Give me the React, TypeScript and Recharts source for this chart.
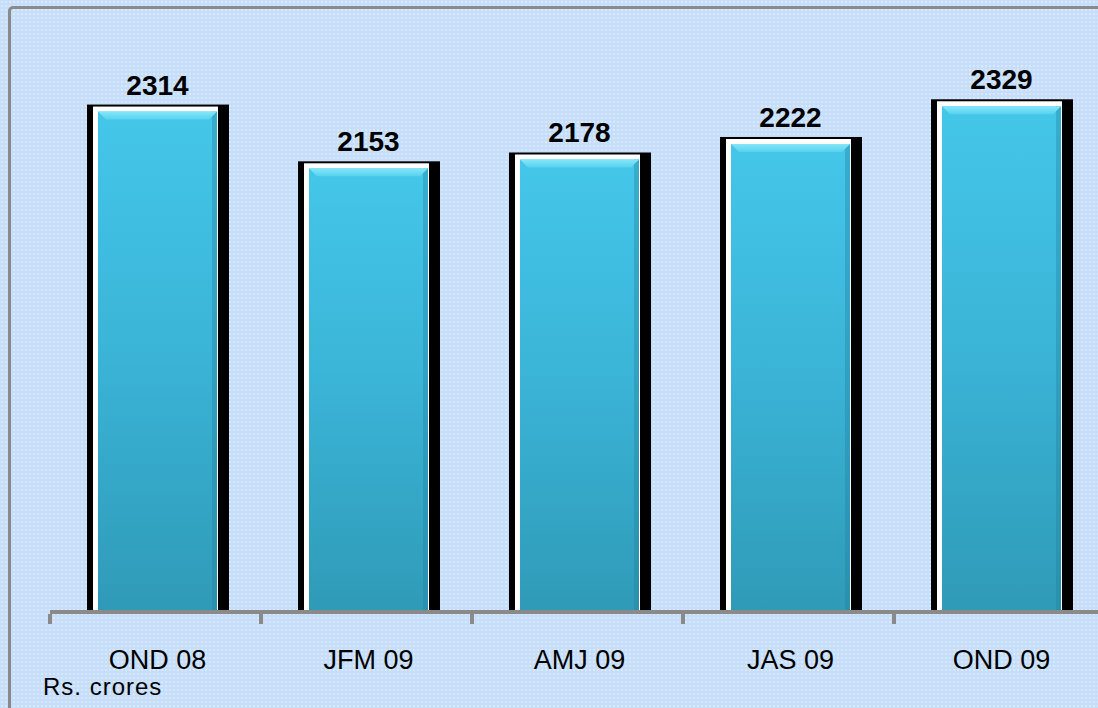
import React from 'react';
import { BarChart, Bar, XAxis, YAxis, LabelList } from 'recharts';

const QUARTERS = ['OND 08', 'JFM 09', 'AMJ 09', 'JAS 09', 'OND 09'];
const VALUES = [2314, 2153, 2178, 2222, 2329];
const Y_DOMAIN = [880, 2500];

const FONT = '"Liberation Sans", Arial, sans-serif';
const AXIS_GREY = '#8a8a8a';

const CHART_W = 1110;
const CHART_H = 708;
const MARGIN = { top: 41, right: 5, left: 50, bottom: 0 };
const BAND = (CHART_W - MARGIN.left - MARGIN.right) / QUARTERS.length;

const data = QUARTERS.map((q, i) => ({ name: q, value: VALUES[i] }));

// bevelled cyan bar with white rim and black drop shadow
const BevelBar = (props: any) => {
    const { x, y, width, height } = props;
    if (height <= 0) return null;
    const base = y + height;
    return (
        <g>
            <rect x={x - 6} y={y - 2} width={width + 17} height={height + 4} fill="#000" />
            <rect x={x} y={y} width={width} height={height + 2} fill="#fff" />
            <rect x={x + 5} y={y + 5} width={width - 6} height={height - 3} fill="url(#barFill)" />
            <rect x={x + width - 6} y={y + 5} width={5} height={height - 3} fill="#1f7f9c" opacity={0.35} />
            <polygon
                points={`${x + 5},${y + 5} ${x + width - 1},${y + 5} ${x + width - 9},${y + 13} ${x + 13},${y + 13}`}
                fill="url(#bevelTop)"
            />
            {/* axis line passes in front of the bar */}
            <rect x={x - 6} y={base - 2} width={width + 17} height={4} fill={AXIS_GREY} />
        </g>
    );
};

const CategoryTick = (props: any) => {
    const { x, y, payload, index } = props;
    const left = x - BAND / 2;
    return (
        <g>
            <line x1={left} y1={y} x2={left} y2={y + 10} stroke={AXIS_GREY} strokeWidth={4} />
            {index === QUARTERS.length - 1 && (
                <line x1={left + BAND} y1={y} x2={left + BAND} y2={y + 10} stroke={AXIS_GREY} strokeWidth={4} />
            )}
            <text x={x + 2} y={y + 55} textAnchor="middle" fontFamily={FONT} fontSize={27} fill="#000">
                {payload.value}
            </text>
        </g>
    );
};

const ValueLabel = (props: any) => {
    const { x, y, width, value } = props;
    return (
        <text x={x + width / 2 + 2} y={y - 12} textAnchor="middle" fontFamily={FONT} fontSize={28} fontWeight="bold" fill="#000">
            {value}
        </text>
    );
};

export default function App() {
    return (
        <div
            style={{
                position: 'absolute',
                left: 0,
                top: 0,
                width: 1098,
                height: 708,
                overflow: 'hidden',
                backgroundColor: '#c6defa',
                backgroundImage: 'radial-gradient(#d8e9fd 1px, transparent 1px)',
                backgroundSize: '4px 4px',
            }}
        >
            <div
                style={{
                    position: 'absolute',
                    left: 8,
                    top: 6,
                    width: 1200,
                    height: 800,
                    border: `3px solid ${AXIS_GREY}`,
                    borderRadius: 5,
                }}
            />
            <div style={{ position: 'absolute', left: 0, top: 0 }}>
                <BarChart width={CHART_W} height={CHART_H} data={data} margin={MARGIN}>
                    <defs>
                        <linearGradient id="barFill" x1="0" y1="0" x2="0" y2="1">
                            <stop offset="0%" stopColor="#44c7ea" />
                            <stop offset="50%" stopColor="#3ab3d6" />
                            <stop offset="100%" stopColor="#2f9ab7" />
                        </linearGradient>
                        <linearGradient id="bevelTop" x1="0" y1="0" x2="0" y2="1">
                            <stop offset="0%" stopColor="#86e6f8" />
                            <stop offset="100%" stopColor="#58d2ef" />
                        </linearGradient>
                    </defs>
                    <XAxis
                        dataKey="name"
                        height={96}
                        axisLine={{ stroke: AXIS_GREY, strokeWidth: 4 }}
                        tickLine={false}
                        tickSize={0}
                        tick={<CategoryTick />}
                        interval={0}
                    />
                    <YAxis hide domain={Y_DOMAIN} allowDataOverflow />
                    <Bar dataKey="value" barSize={125} shape={<BevelBar />} isAnimationActive={false}>
                        <LabelList dataKey="value" content={<ValueLabel />} />
                    </Bar>
                </BarChart>
            </div>
            <div
                style={{
                    position: 'absolute',
                    left: 43,
                    top: 673,
                    fontFamily: FONT,
                    fontSize: 24,
                    letterSpacing: 1,
                    color: '#000',
                }}
            >
                Rs. crores
            </div>
        </div>
    );
}
